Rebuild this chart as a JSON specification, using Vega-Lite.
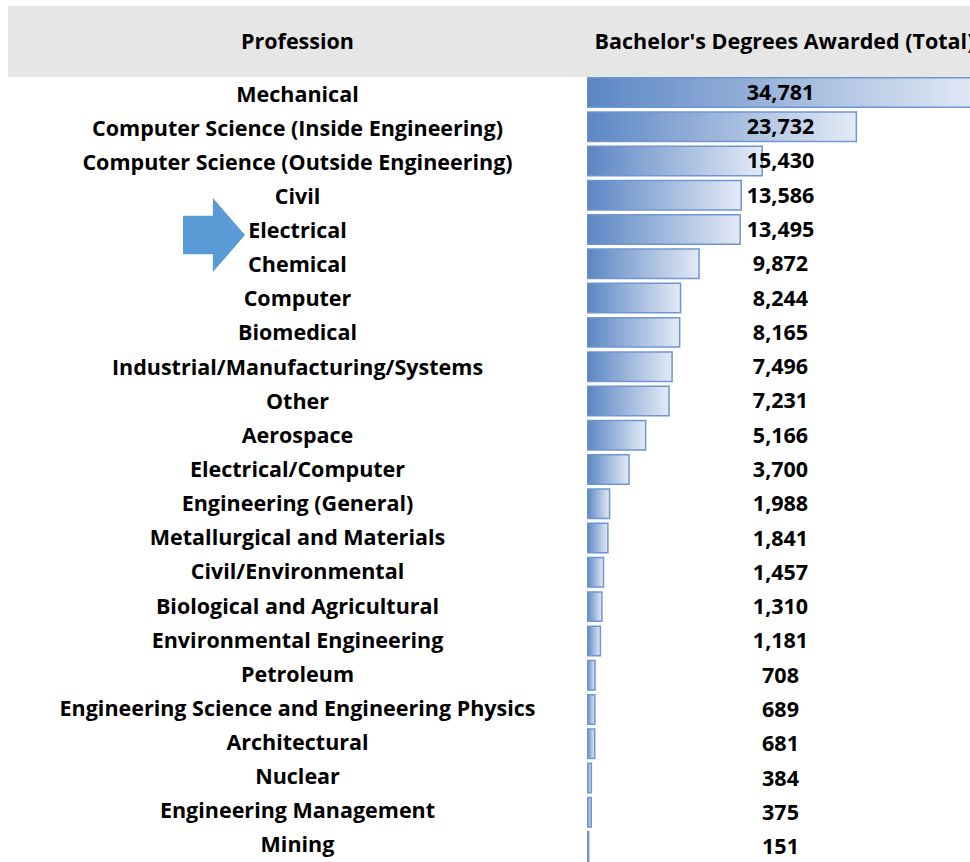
{
  "$schema": "https://vega.github.io/schema/vega-lite/v6.json",
  "padding": {"left": 8, "top": 6, "right": 0, "bottom": 0},
  "spacing": 0,
  "config": {
    "view": {"stroke": null},
    "concat": {"spacing": 0},
    "text": {"font": "Open Sans", "fontWeight": "bold", "fontSize": 21.5, "color": "#000000"}
  },
  "datasets": {
    "degrees": [
      {"Profession": "Mechanical", "Degrees": 34781},
      {"Profession": "Computer Science (Inside Engineering)", "Degrees": 23732},
      {"Profession": "Computer Science (Outside Engineering)", "Degrees": 15430},
      {"Profession": "Civil", "Degrees": 13586},
      {"Profession": "Electrical", "Degrees": 13495},
      {"Profession": "Chemical", "Degrees": 9872},
      {"Profession": "Computer", "Degrees": 8244},
      {"Profession": "Biomedical", "Degrees": 8165},
      {"Profession": "Industrial/Manufacturing/Systems", "Degrees": 7496},
      {"Profession": "Other", "Degrees": 7231},
      {"Profession": "Aerospace", "Degrees": 5166},
      {"Profession": "Electrical/Computer", "Degrees": 3700},
      {"Profession": "Engineering (General)", "Degrees": 1988},
      {"Profession": "Metallurgical and Materials", "Degrees": 1841},
      {"Profession": "Civil/Environmental", "Degrees": 1457},
      {"Profession": "Biological and Agricultural", "Degrees": 1310},
      {"Profession": "Environmental Engineering", "Degrees": 1181},
      {"Profession": "Petroleum", "Degrees": 708},
      {"Profession": "Engineering Science and Engineering Physics", "Degrees": 689},
      {"Profession": "Architectural", "Degrees": 681},
      {"Profession": "Nuclear", "Degrees": 384},
      {"Profession": "Engineering Management", "Degrees": 375},
      {"Profession": "Mining", "Degrees": 151}
    ]
  },
  "vconcat": [
    {
      "spacing": 0,
      "hconcat": [
        {
          "width": 579,
          "height": 71,
          "view": {"fill": "#e7e6e6", "stroke": null},
          "data": {"values": [{"Header": "Profession"}]},
          "mark": {"type": "text", "align": "center", "baseline": "middle", "clip": true, "dy": 1.5},
          "encoding": {"text": {"field": "Header"}}
        },
        {
          "width": 383,
          "height": 71,
          "view": {"fill": "#e7e6e6", "stroke": null},
          "data": {"values": [{"Header": "Bachelor's Degrees Awarded (Total)"}]},
          "mark": {"type": "text", "align": "center", "baseline": "middle", "clip": true, "dx": 6, "dy": 1.5},
          "encoding": {"text": {"field": "Header"}}
        }
      ]
    },
    {
      "spacing": 0,
      "hconcat": [
        {
          "width": 579,
          "height": 785,
          "data": {"name": "degrees"},
          "layer": [
            {
              "mark": {"type": "text", "align": "center", "baseline": "middle", "dy": 1.5},
              "encoding": {
                "y": {"field": "Profession", "type": "nominal", "sort": null, "axis": null,
                      "scale": {"paddingInner": 0.14, "paddingOuter": 0.02}},
                "text": {"field": "Profession"}
              }
            },
            {
              "transform": [{"filter": "datum.Profession === 'Electrical'"}],
              "mark": {"type": "point", "filled": true, "color": "#5b9bd5", "opacity": 1, "strokeWidth": 0,
                       "shape": "M -0.838 -0.52 L -0.03 -0.52 L -0.03 -1 L 0.838 0 L -0.03 1 L -0.03 0.52 L -0.838 0.52 Z",
                       "size": 5476, "xOffset": -83.5, "yOffset": 4.5},
              "encoding": {
                "y": {"field": "Profession", "type": "nominal", "sort": null, "axis": null}
              }
            }
          ]
        },
        {
          "width": 383,
          "height": 785,
          "data": {"name": "degrees"},
          "encoding": {
            "y": {"field": "Profession", "type": "nominal", "sort": null, "axis": null,
                  "scale": {"paddingInner": 0.14, "paddingOuter": 0.02}}
          },
          "layer": [
            {
              "mark": {"type": "bar", "clip": true, "stroke": "#6f96cf", "strokeWidth": 1.5,
                       "fill": {"gradient": "linear", "x1": 0, "x2": 1, "y1": 0, "y2": 0,
                                "stops": [{"offset": 0, "color": "#5b86c4"}, {"offset": 1, "color": "#e3eaf5"}]}},
              "encoding": {
                "x": {"field": "Degrees", "type": "quantitative", "axis": null,
                      "scale": {"domain": [0, 33744], "nice": false, "zero": true}}
              }
            },
            {
              "mark": {"type": "text", "align": "center", "baseline": "middle", "dx": 2, "dy": 1.5},
              "encoding": {
                "text": {"field": "Degrees", "type": "quantitative", "format": ",d"}
              }
            }
          ]
        }
      ]
    }
  ]
}
